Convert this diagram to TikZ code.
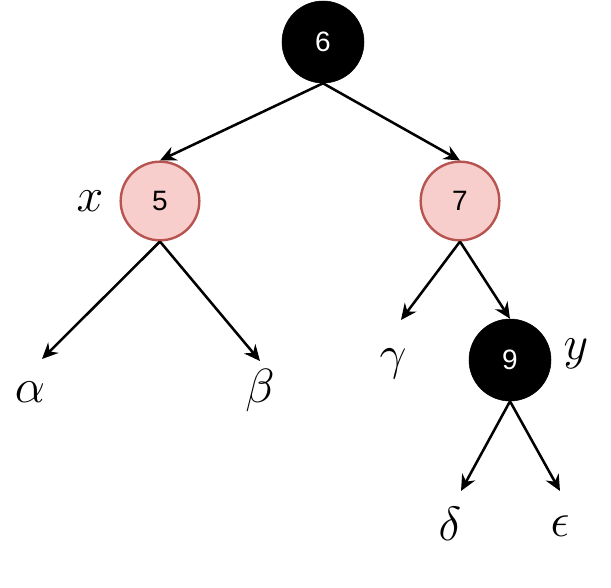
\RequirePackage{fix-cm}
\documentclass[tikz,border=0pt]{standalone}
\usepackage{fontspec}
\newfontfamily\numfont{Liberation Sans}
\usetikzlibrary{arrows.meta}
\definecolor{redfill}{HTML}{F8CECC}
\definecolor{redline}{HTML}{B85450}
\begin{document}
\begin{tikzpicture}[x=0.75pt,y=-0.75pt,
  blacknode/.style={circle,fill=black,draw=black,minimum size=61.5pt,inner sep=0pt,text=white,font=\numfont\fontsize{21}{21}\selectfont},
  rednode/.style={circle,fill=redfill,draw=redline,line width=1.8pt,minimum size=59pt,inner sep=0pt,text=black,font=\numfont\fontsize{21}{21}\selectfont},
  edge/.style={line width=1.9pt,-{Stealth[length=12pt,width=11pt,inset=4pt]}},
  greek/.style={inner sep=0pt,font=\fontsize{36}{36}\selectfont}]
\useasboundingbox (0,0) rectangle (611,587);
\node[blacknode] (n6) at (323,42) {6};
\node[rednode] (n5) at (160,201) {5};
\node[rednode] (n7) at (460,201) {7};
\node[blacknode] (n9) at (510,360) {9};
\node[greek] (lx) at (90,201) {$x$};
\node[greek] (ly) at (576,354) {$y$};
\node[greek] (la) at (30,392) {$\alpha$};
\node[greek] (lb) at (260,390) {$\beta$};
\node[greek] (lg) at (393,364) {$\gamma$};
\node[greek] (ld) at (450,524) {$\delta$};
\node[greek] (le) at (560,526) {$\epsilon$};
\coordinate (ea) at (42,359);
\coordinate (eb) at (260,361);
\coordinate (eg) at (401,320);
\coordinate (ed) at (461,491);
\coordinate (ee) at (560,491);
\draw[edge] (n6.south) -- (n5.north);
\draw[edge] (n6.south) -- (n7.north);
\draw[edge] (n5.south) -- (ea);
\draw[edge] (n5.south) -- (eb);
\draw[edge] (n7.south) -- (eg);
\draw[edge] (n7.south) -- (n9.north);
\draw[edge] (n9.south) -- (ed);
\draw[edge] (n9.south) -- (ee);
\end{tikzpicture}
\end{document}
